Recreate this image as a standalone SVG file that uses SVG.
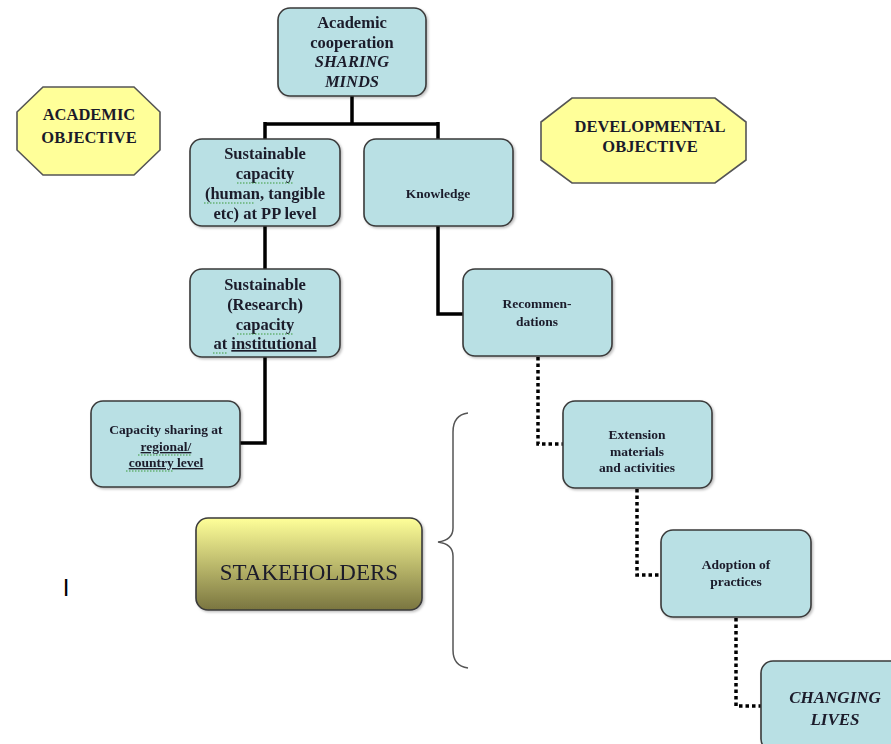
<svg xmlns="http://www.w3.org/2000/svg" width="891" height="744" viewBox="0 0 891 744">
<style>
.box{fill:#b9e0e4;stroke:#3a3a3a;stroke-width:1.6}
.oct{fill:#ffff99;stroke:#555;stroke-width:1.6}
.t{font-family:"Liberation Serif","Times New Roman",serif;font-weight:bold;fill:#1a1a2a;text-anchor:middle}
.l{font-size:16.5px}
.s{font-size:13.5px}
.i{font-style:italic}
.solid{fill:none;stroke:#000;stroke-width:3.5}
.dot{fill:none;stroke:#000;stroke-width:3.5;stroke-dasharray:3.5 3}
.sq{fill:none;stroke:#3a9a3a;stroke-width:1;stroke-dasharray:1.5 1.5}
</style>
<defs>
<linearGradient id="gold" x1="0" y1="0" x2="0" y2="1">
<stop offset="0" stop-color="#ffff99"/>
<stop offset="1" stop-color="#7a7540"/>
</linearGradient>
<filter id="sh" x="-10%" y="-10%" width="125%" height="125%">
<feDropShadow dx="1.5" dy="1.5" stdDeviation="1" flood-color="#000" flood-opacity="0.25"/>
</filter>
</defs>
<g id="connectors">
<path class="solid" d="M352 96 V124 M265 124 H438 M265 122 V139 M438 122 V139"/>
<path class="solid" d="M265 226 V269"/>
<path class="solid" d="M265 357 V443 H240"/>
<path class="solid" d="M438 226 V314 H463"/>
<path class="dot" d="M538 357 V444 H563"/>
<path class="dot" d="M637 489 V575 H661"/>
<path class="dot" d="M736 618 V706 H761"/>
</g>
<g id="academic-objective">
<polygon class="oct" points="43,87 134,87 160,112 160,150 134,175 43,175 17,150 17,112"/>
<text class="t l" x="89" y="120">ACADEMIC</text>
<text class="t l" x="89" y="143">OBJECTIVE</text>
</g>
<g id="developmental-objective">
<polygon class="oct" points="572,98 715,98 746,122 746,160 715,183 572,183 541,160 541,122"/>
<text class="t l" x="650" y="132">DEVELOPMENTAL</text>
<text class="t l" x="650" y="152">OBJECTIVE</text>
</g>
<g id="academic-cooperation" filter="url(#sh)">
<rect class="box" x="278" y="8" width="148" height="88" rx="12"/>
<text class="t l" x="352" y="28">Academic</text>
<text class="t l" x="352" y="48">cooperation</text>
<text class="t l i" x="352" y="67">SHARING</text>
<text class="t l i" x="352" y="87">MINDS</text>
</g>
<g id="sustainable-capacity" filter="url(#sh)">
<rect class="box" x="190" y="139" width="150" height="87" rx="12"/>
<text class="t l" x="265" y="159">Sustainable</text>
<text class="t l" x="265" y="179">capacity</text>
<text class="t l" x="265" y="199">(human, tangible</text>
<text class="t l" x="265" y="219">etc) at PP level</text>
<path class="sq" d="M237 183 H293 M204 203 H255"/>
</g>
<g id="knowledge" filter="url(#sh)">
<rect class="box" x="364" y="139" width="149" height="87" rx="12"/>
<text class="t s" x="438" y="198">Knowledge</text>
</g>
<g id="sustainable-research" filter="url(#sh)">
<rect class="box" x="190" y="269" width="150" height="88" rx="12"/>
<text class="t l" x="265" y="290">Sustainable</text>
<text class="t l" x="265" y="310">(Research)</text>
<text class="t l" x="265" y="330">capacity</text>
<text class="t l" x="265" y="349">at <tspan text-decoration="underline">institutional</tspan></text>
<path class="sq" d="M237 334 H293 M213 353 H228"/>
</g>
<g id="capacity-sharing" filter="url(#sh)">
<rect class="box" x="91" y="401" width="149" height="86" rx="12"/>
<text class="t s" x="166" y="434">Capacity sharing at</text>
<text class="t s" x="166" y="451" text-decoration="underline">regional/</text>
<text class="t s" x="166" y="467" text-decoration="underline">country level</text>
<path class="sq" d="M138 455 H192 M126 471 H174"/>
</g>
<g id="recommendations" filter="url(#sh)">
<rect class="box" x="463" y="269" width="149" height="87" rx="12"/>
<text class="t s" x="537" y="308">Recommen-</text>
<text class="t s" x="537" y="326">dations</text>
</g>
<g id="extension" filter="url(#sh)">
<rect class="box" x="563" y="401" width="149" height="87" rx="12"/>
<text class="t s" x="637" y="439">Extension</text>
<text class="t s" x="637" y="456">materials</text>
<text class="t s" x="637" y="472">and activities</text>
</g>
<g id="adoption" filter="url(#sh)">
<rect class="box" x="661" y="530" width="150" height="87" rx="12"/>
<text class="t s" x="736" y="569">Adoption of</text>
<text class="t s" x="736" y="586">practices</text>
</g>
<g id="changing-lives" filter="url(#sh)">
<rect class="box" x="761" y="661" width="150" height="90" rx="12"/>
<text class="t i" style="font-size:17px" x="835" y="703">CHANGING</text>
<text class="t i" style="font-size:17px" x="835" y="725">LIVES</text>
</g>
<g id="stakeholders" filter="url(#sh)">
<rect x="196" y="518" width="226" height="92" rx="12" fill="url(#gold)" stroke="#3a3a3a" stroke-width="1.6"/>
<text x="309" y="580" font-family="'Liberation Serif','Times New Roman',serif" font-size="23" fill="#1a1a2a" text-anchor="middle">STAKEHOLDERS</text>
</g>
<g id="brace">
<path d="M468 413 Q453 415 453 432 V528 Q453 540 438 542 Q453 544 453 556 V650 Q453 666 468 668" fill="none" stroke="#555" stroke-width="1.5"/>
</g>
<text x="66" y="596" font-family="'Liberation Sans',Arial,sans-serif" font-size="24" fill="#000" text-anchor="middle">I</text>
</svg>
